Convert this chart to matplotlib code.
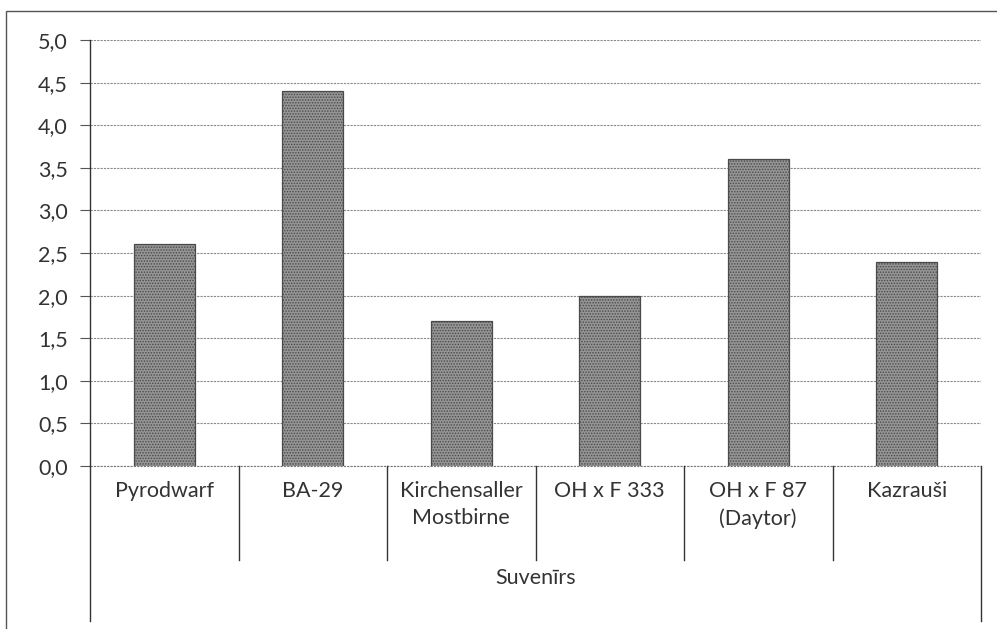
import matplotlib
matplotlib.use('Agg')
from matplotlib import pyplot as plt
from matplotlib.patches import Rectangle
from matplotlib.ticker import FuncFormatter
import matplotlib.transforms as mtransforms

categories = ['Pyrodwarf', 'BA-29', 'Kirchensaller\nMostbirne', 'OH x F 333',
              'OH x F 87\n(Daytor)', 'Kazrauši']
values = [2.6, 4.4, 1.7, 2.0, 3.6, 2.4]
group_label = 'Suvenīrs'
y_ticks = [0, 0.5, 1.0, 1.5, 2.0, 2.5, 3.0, 3.5, 4.0, 4.5, 5.0]

plt.rcParams['font.family'] = ['Lato', 'DejaVu Sans']
plt.rcParams['hatch.color'] = '#5e5e5e'
plt.rcParams['hatch.linewidth'] = 0.7
text_color = '#333333'

W, H = 997, 629
fig = plt.figure(figsize=(W / 100, H / 100), dpi=100)
# axes box in pixels: left 90, right 981, top 40, bottom 466
ax = fig.add_axes([90 / W, (H - 466) / H, (981 - 90) / W, (466 - 40) / H])

# outer frame of the chart area
fig.patches.append(Rectangle((6 / W, -0.1), 1.2, (H - 11) / H + 0.1,
                             transform=fig.transFigure, fill=False,
                             edgecolor='#555555', linewidth=1.0))

x = list(range(len(categories)))
ax.bar(x, values, width=0.41, color='#959595', edgecolor='#4a4a4a',
       linewidth=0.9, hatch='......', zorder=3)

ax.set_xlim(-0.5, len(categories) - 0.5)
ax.set_ylim(0, 5)
ax.set_yticks(y_ticks)
ax.yaxis.set_major_formatter(FuncFormatter(lambda v, p: f'{v:.1f}'.replace('.', ',')))
ax.yaxis.grid(True, color='#8a8a8a', linewidth=0.8, linestyle=(0, (2, 1)), zorder=0)
ax.set_xticks([])
ax.tick_params(axis='y', length=7, width=0.8, color='#555555', pad=9,
               labelsize=15.5, labelcolor=text_color)

for s in ['top', 'right', 'bottom']:
    ax.spines[s].set_visible(False)
ax.spines['left'].set_color('#333333')
ax.spines['left'].set_linewidth(1.0)

# category boxes under the axis
trans = mtransforms.blended_transform_factory(ax.transData, ax.transAxes)
ax.plot([-0.5, len(categories) - 0.5], [0, 0], transform=trans,
        color='#777777', linewidth=0.8, linestyle=(0, (2, 1)), clip_on=False)
n = len(categories)
for i in range(n + 1):
    xb = i - 0.5
    y_end = -0.364 if i in (0, n) else -0.221
    ax.plot([xb, xb], [0, y_end], transform=trans, color='#333333',
            linewidth=1.0, clip_on=False)

for i, lab in enumerate(categories):
    ax.text(i, -0.035, lab, transform=trans, ha='center', va='top',
            fontsize=15.5, color=text_color, linespacing=1.45)

ax.text((n - 1) / 2, -0.262, group_label, transform=trans, ha='center',
        va='center', fontsize=15.5, color=text_color)

plt.savefig('out.png', dpi=100)
